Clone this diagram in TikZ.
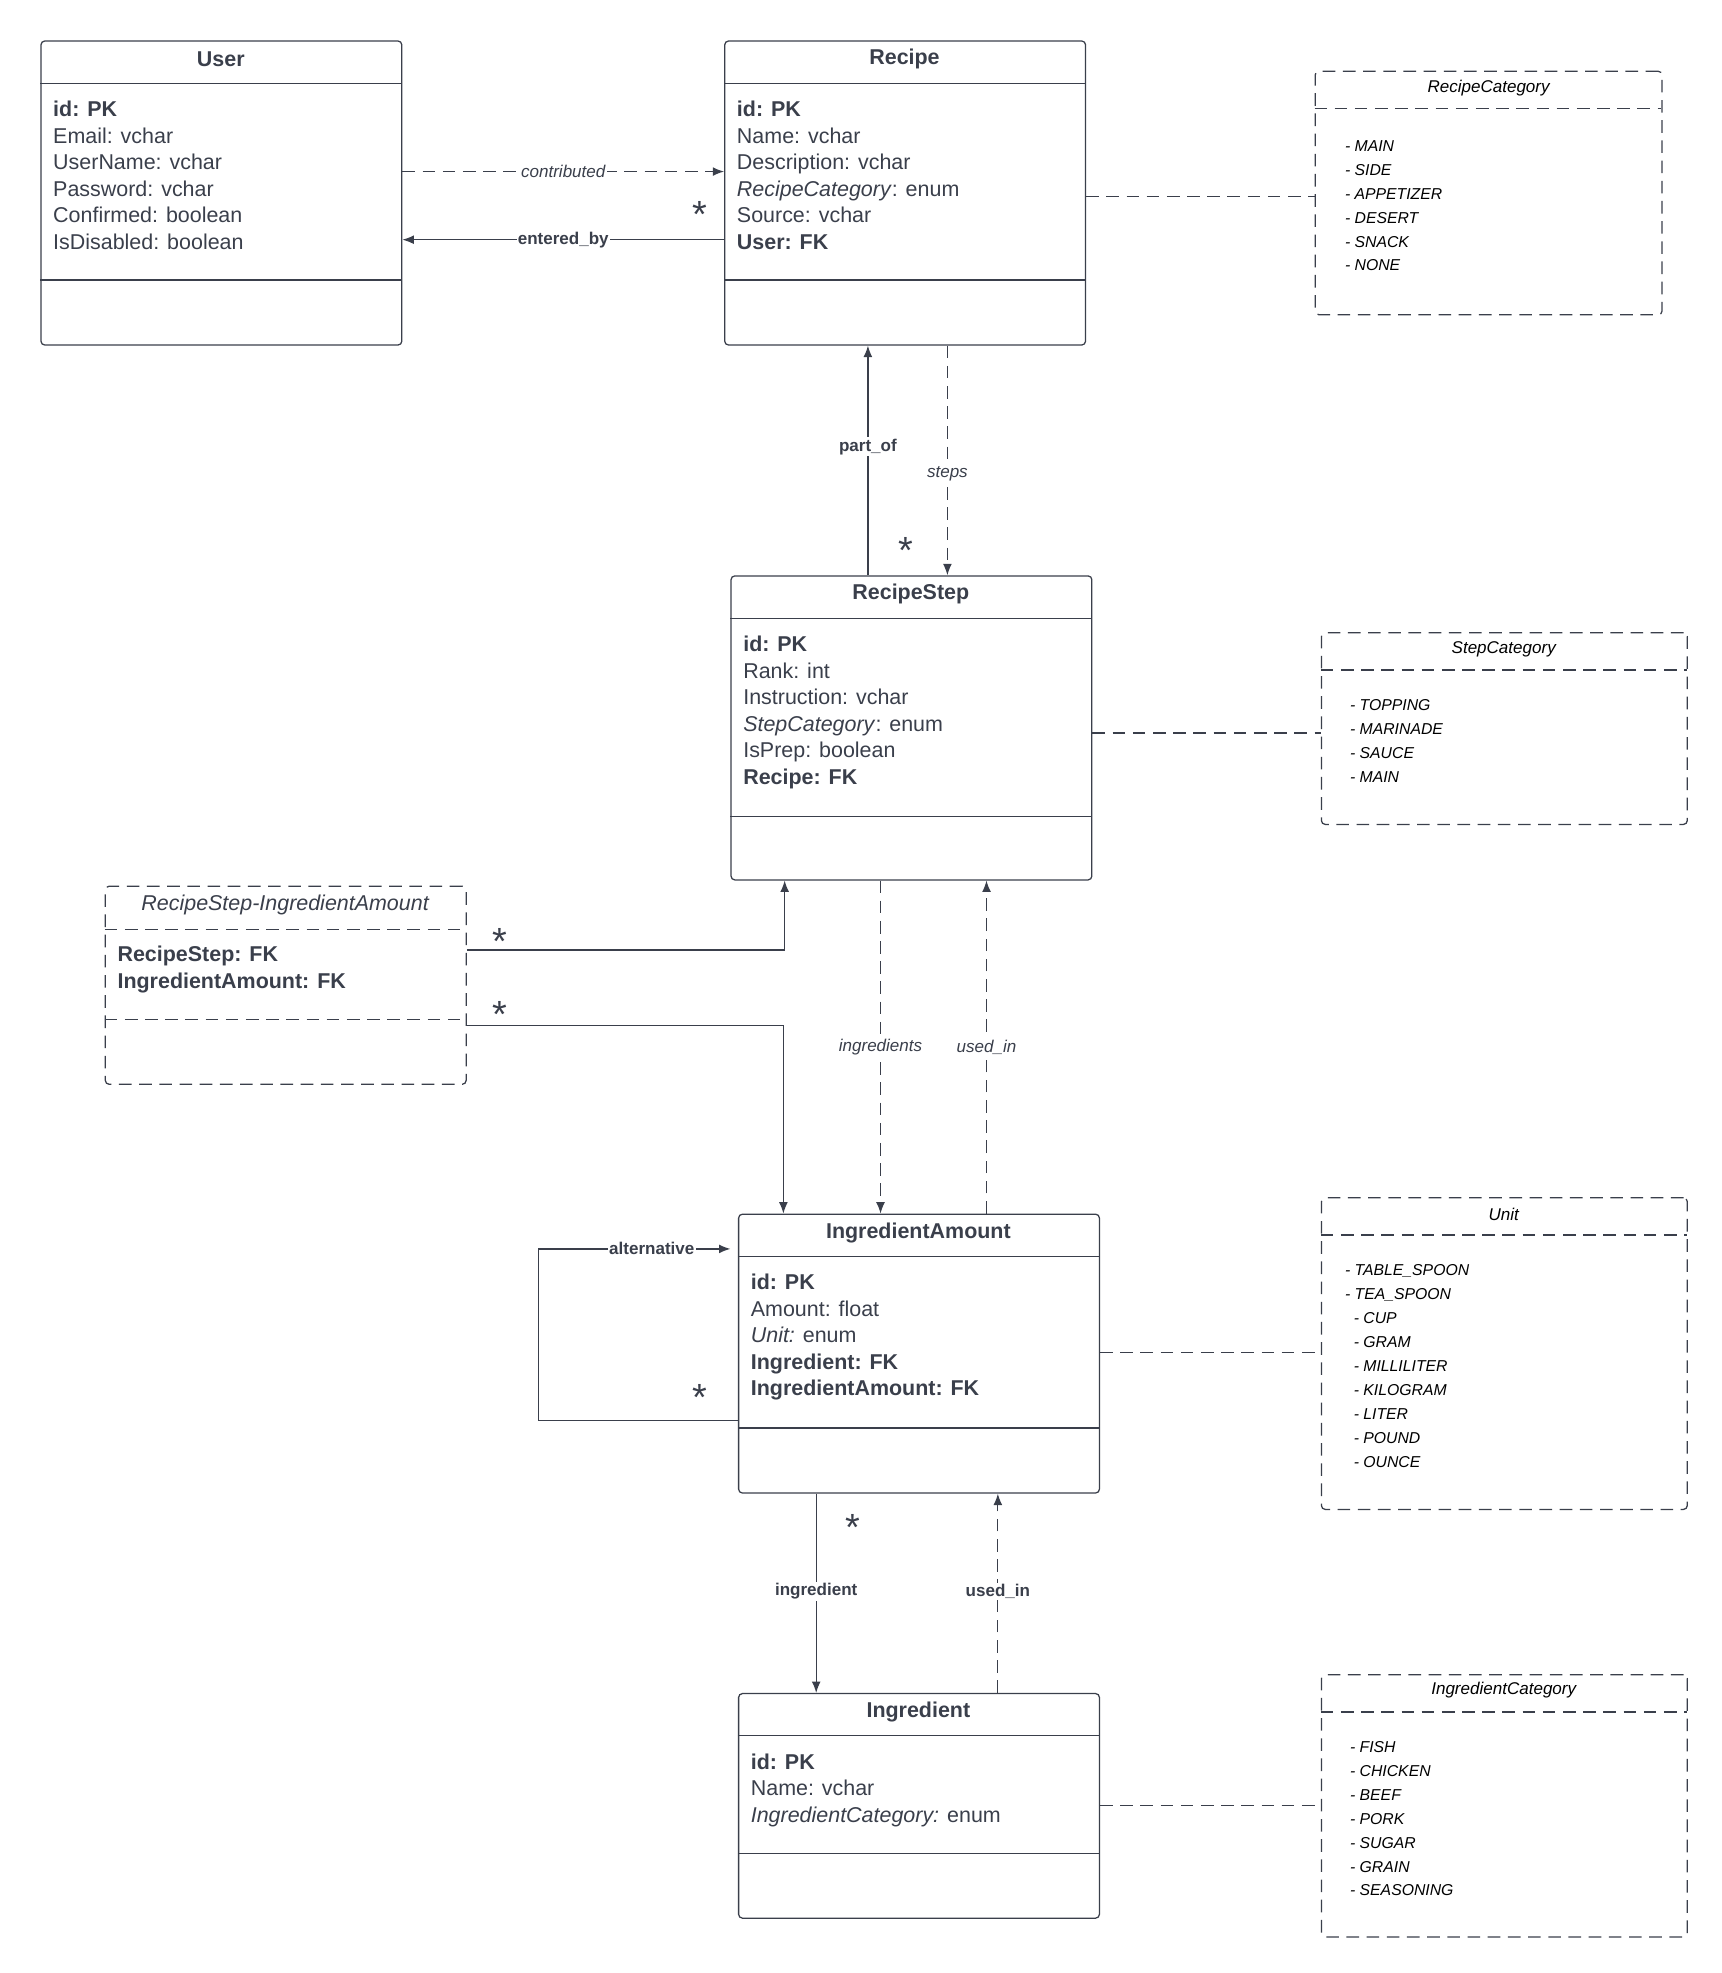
\documentclass[tikz,border=0pt]{standalone}
\usepackage{fontspec}
\setmainfont{Liberation Sans}
\usetikzlibrary{arrows.meta}
\definecolor{ink}{HTML}{3A3F4B}
\begin{document}
\begin{tikzpicture}[x=1pt,y=-1pt,
  box/.style={draw=ink,line width=1pt,rounded corners=3pt,anchor=north west,inner sep=0},
  dbox/.style={box,dash pattern=on 10pt off 6pt},
  dsh/.style={dash pattern=on 10pt off 6pt},
  ln/.style={draw=ink,line width=1pt},
  tit/.style={font=\fontsize{17}{21}\selectfont\bfseries,text=ink,inner sep=0},
  body/.style={font=\fontsize{17}{21}\selectfont,text=ink,anchor=north west,align=left,inner sep=0},
  enum/.style={font=\fontsize{12.5}{19}\selectfont\itshape,text=black,anchor=north west,align=left,inner sep=0},
  etit/.style={font=\fontsize{13.5}{16}\selectfont\itshape,text=black,inner sep=0},
  lab/.style={font=\fontsize{13.5}{16}\selectfont,fill=white,inner sep=1pt,text=ink},
  star/.style={font=\fontsize{30}{30}\selectfont,text=ink,inner sep=0},
  arr/.style={ln,-{Latex[length=9pt,width=7pt]}}]
\useasboundingbox (0,0) rectangle (1365,1564);
% User
\node[box,minimum width=286pt,minimum height=241pt] (user) at (32,32) {};
\draw[ln] (32,66) -- (318,66) (32,222) -- (318,222);
\node[tit] (usert) at (175,47) {User};
\node[body] (userb) at (42,80) {\textbf{id: PK}\\Email: vchar\\UserName: vchar\\Password: vchar\\Confirmed: boolean\\IsDisabled: boolean};
% Recipe
\node[box,minimum width=286pt,minimum height=241pt] (recipe) at (574,32) {};
\draw[ln] (574,66) -- (860,66) (574,222) -- (860,222);
\node[tit] (recipet) at (717,47) {Recipe};
\node[body] (recipeb) at (584,80) {\textbf{id: PK}\\Name: vchar\\Description: vchar\\\textit{RecipeCategory}: enum\\Source: vchar\\\textbf{User: FK}};
% RecipeCategory
\node[dbox,minimum width=275pt,minimum height=193pt] (rc) at (1042,56) {};
\draw[ln,dsh] (1042,86) -- (1317,86);
\node[etit] (rct) at (1180,70) {RecipeCategory};
\node[enum] (rcb) at (1066,111) {- MAIN\\- SIDE\\- APPETIZER\\- DESERT\\- SNACK\\- NONE};
% RecipeStep
\node[box,minimum width=286pt,minimum height=241pt] (step) at (579,456) {};
\draw[ln] (579,490) -- (865,490) (579,647) -- (865,647);
\node[tit] (stept) at (722,471) {RecipeStep};
\node[body] (stepb) at (589,504) {\textbf{id: PK}\\Rank: int\\Instruction: vchar\\\textit{StepCategory}: enum\\IsPrep: boolean\\\textbf{Recipe: FK}};
% StepCategory
\node[dbox,minimum width=290pt,minimum height=152pt] (sc) at (1047,501) {};
\draw[ln,dsh] (1047,531) -- (1337,531);
\node[etit] (sct) at (1192,515) {StepCategory};
\node[enum] (scb) at (1070,554) {- TOPPING\\- MARINADE\\- SAUCE\\- MAIN};
% RecipeStep-IngredientAmount
\node[dbox,minimum width=286pt,minimum height=157pt] (rsia) at (83,702) {};
\draw[ln,dsh] (83,737) -- (369,737) (83,808) -- (369,808);
\node[etit,font=\fontsize{17}{21}\selectfont\itshape,text=ink] (rsiat) at (226,717) {RecipeStep-IngredientAmount};
\node[body] (rsiab) at (93,750) {\textbf{RecipeStep: FK}\\\textbf{IngredientAmount: FK}};
% IngredientAmount
\node[box,minimum width=286pt,minimum height=221pt] (ia) at (585,962) {};
\draw[ln] (585,996) -- (871,996) (585,1132) -- (871,1132);
\node[tit] (iat) at (728,977) {IngredientAmount};
\node[body] (iab) at (595,1010) {\textbf{id: PK}\\Amount: float\\\textit{Unit:} enum\\\textbf{Ingredient: FK}\\\textbf{IngredientAmount: FK}};
% Unit
\node[dbox,minimum width=290pt,minimum height=247pt] (unit) at (1047,949) {};
\draw[ln,dsh] (1047,979) -- (1337,979);
\node[etit] (unitt) at (1192,963) {Unit};
\node[enum] (unitb) at (1066,1002) {- TABLE\_SPOON\\- TEA\_SPOON\\\ \ - CUP\\\ \ - GRAM\\\ \ - MILLILITER\\\ \ - KILOGRAM\\\ \ - LITER\\\ \ - POUND\\\ \ - OUNCE};
% Ingredient
\node[box,minimum width=286pt,minimum height=178pt] (ing) at (585,1342) {};
\draw[ln] (585,1376) -- (871,1376) (585,1469) -- (871,1469);
\node[tit] (ingt) at (728,1357) {Ingredient};
\node[body] (ingb) at (595,1390) {\textbf{id: PK}\\Name: vchar\\\textit{IngredientCategory:} enum};
% IngredientCategory
\node[dbox,minimum width=290pt,minimum height=208pt] (ic) at (1047,1327) {};
\draw[ln,dsh] (1047,1357) -- (1337,1357);
\node[etit] (ict) at (1192,1340) {IngredientCategory};
\node[enum] (icb) at (1070,1380) {- FISH\\- CHICKEN\\- BEEF\\- PORK\\- SUGAR\\- GRAIN\\- SEASONING};
% connectors
\draw[arr,dsh] (user.east |- 0,136) -- node[lab,font=\fontsize{13.5}{16}\selectfont\itshape] (l1) {contributed} (recipe.west |- 0,136);
\draw[arr] (recipe.west |- 0,190) -- node[lab,font=\fontsize{13.5}{16}\selectfont\bfseries,pos=0.5] (l2) {entered\_by} (user.east |- 0,190);
\node[star] (s1) at (555,170) {*};
\draw[ln,dsh] (recipe.east |- 0,156) -- (rc.west |- 0,156);
\draw[arr] (step.north -| 688,0) -- node[lab,font=\fontsize{13.5}{16}\selectfont\bfseries,pos=0.56] (l3) {part\_of} (recipe.south -| 688,0);
\node[star] (s2) at (718,436) {*};
\draw[arr,dsh] (recipe.south -| 751,0) -- node[lab,font=\fontsize{13.5}{16}\selectfont\itshape,pos=0.56] (l4) {steps} (step.north -| 751,0);
\draw[ln,dsh] (step.east |- 0,581) -- (sc.west |- 0,581);
\draw[arr] (rsia.east |- 0,753) -- (622,753) -- (step.south -| 622,0);
\node[star] (s3) at (396,746) {*};
\draw[arr] (rsia.east |- 0,813) -- (621,813) -- (ia.north -| 621,0);
\node[star] (s4) at (396,804) {*};
\draw[arr,dsh] (step.south -| 698,0) -- node[lab,font=\fontsize{13.5}{16}\selectfont\itshape,pos=0.5] (l5) {ingredients} (ia.north -| 698,0);
\draw[arr,dsh] (ia.north -| 782,0) -- node[lab,font=\fontsize{13.5}{16}\selectfont\itshape,pos=0.5] (l6) {used\_in} (step.south -| 782,0);
\draw[arr] (ia.west |- 0,1126) -- (427,1126) -- (427,990) -- node[lab,font=\fontsize{13.5}{16}\selectfont\bfseries,pos=0.59] (l7) {alternative} (579,990);
\node[star] (s5) at (555,1108) {*};
\draw[ln,dsh] (ia.east |- 0,1072) -- (unit.west |- 0,1072);
\draw[arr] (ia.south -| 647,0) -- node[lab,font=\fontsize{13.5}{16}\selectfont\bfseries,pos=0.49] (l8) {ingredient} (ing.north -| 647,0);
\node[star] (s6) at (676,1211) {*};
\draw[arr,dsh] (ing.north -| 791,0) -- node[lab,font=\fontsize{13.5}{16}\selectfont\bfseries,pos=0.51] (l9) {used\_in} (ia.south -| 791,0);
\draw[ln,dsh] (ing.east |- 0,1431) -- (ic.west |- 0,1431);
\end{tikzpicture}
\end{document}
